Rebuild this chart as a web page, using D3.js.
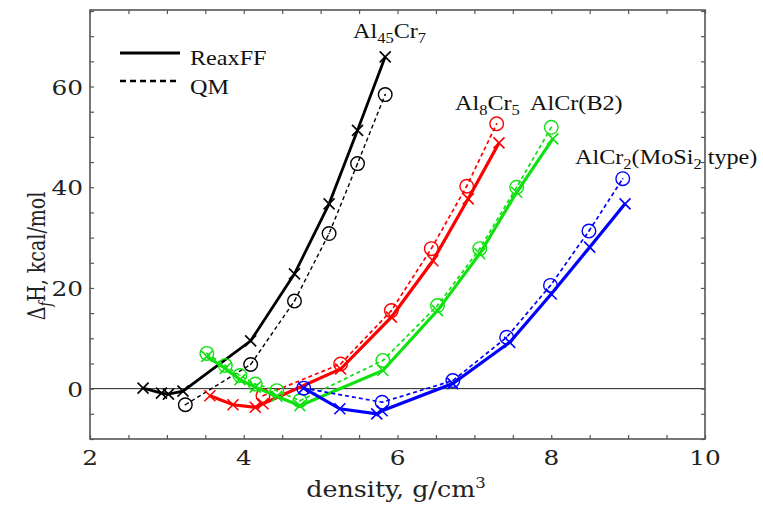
<!DOCTYPE html>
<html><head><meta charset="utf-8">
<script src="https://cdn.jsdelivr.net/npm/d3@7"></script>
<style>body{margin:0;background:#fff;} svg{display:block;}</style>
</head><body>
<svg id="c" width="763" height="505"></svg>
<script>
// ---- data ----
const xTicks = [2, 4, 6, 8, 10];
const yTicks = [0, 20, 40, 60];
const legendLabels = ["ReaxFF", "QM"];

const blackReaxX = [2.69, 2.93, 3.02, 3.21, 4.09, 4.66, 5.11, 5.48, 5.84];
const blackReaxY = [0.1, -0.9, -1.1, -0.5, 9.5, 22.8, 36.7, 51.3, 65.9];
const blackQmX = [3.24, 4.09, 4.66, 5.11, 5.48, 5.84];
const blackQmY = [-3.2, 4.8, 17.4, 30.8, 44.7, 58.4];

const redReaxX = [3.56, 3.86, 4.15, 4.25, 5.26, 5.92, 6.46, 6.92, 7.32];
const redReaxY = [-1.4, -3.2, -3.7, -3.0, 3.9, 14.2, 25.4, 37.7, 48.8];
const redQmX = [4.25, 5.26, 5.92, 6.44, 6.90, 7.29];
const redQmY = [-1.4, 4.9, 15.5, 27.8, 40.2, 52.6];

const greenReaxX = [3.52, 3.76, 3.95, 4.15, 4.43, 4.73, 5.81, 6.52, 7.07, 7.55, 8.02];
const greenReaxY = [6.4, 4.0, 1.8, 0.3, -1.5, -3.4, 3.6, 15.5, 26.8, 39.0, 49.6];
const greenQmX = [3.52, 3.76, 3.95, 4.15, 4.43, 4.73, 5.81, 6.52, 7.07, 7.55, 8.0];
const greenQmY = [7.0, 4.6, 2.6, 0.9, -0.4, -2.4, 5.6, 16.5, 27.8, 40.0, 51.9];

const blueReaxX = [4.78, 5.25, 5.73, 5.80, 6.72, 7.46, 8.0, 8.5, 8.96];
const blueReaxY = [0.1, -4.0, -5.0, -4.4, 1.0, 9.2, 18.8, 28.1, 36.7];
const blueQmX = [4.78, 5.8, 6.72, 7.42, 7.99, 8.49, 8.93];
const blueQmY = [0.1, -2.7, 1.6, 10.2, 20.5, 31.3, 41.7];

const seriesColors = ["#000000", "#ff0000", "#10e010", "#0000ff"];

// ---- layout ----
const svg = d3.select("#c");
const L = 90, R = 705, T = 10, B = 439;
const x = d3.scaleLinear().domain([2, 10]).range([L, R]);
const y = d3.scaleLinear().domain([-10, 75.2]).range([B, T]);
const frameColor = "#555";
const SX = 1.18; // horizontal stretch of the reference figure text

svg.append("line").attr("x1", L).attr("x2", R).attr("y1", y(0)).attr("y2", y(0))
  .attr("stroke", "#222").attr("stroke-width", 1);

const xMinor = d3.range(2, 10.01, 0.5);
const yMinor = d3.range(-10, 75.01, 5);
svg.append("g").attr("transform", `translate(0,${B})`)
  .call(d3.axisBottom(x).tickValues(xMinor).tickSize(-4).tickFormat(""));
svg.append("g").attr("transform", `translate(0,${T})`)
  .call(d3.axisTop(x).tickValues(xMinor).tickSize(-4).tickFormat(""));
svg.append("g").attr("transform", `translate(${L},0)`)
  .call(d3.axisLeft(y).tickValues(yMinor).tickSize(-4).tickFormat(""));
svg.append("g").attr("transform", `translate(${R},0)`)
  .call(d3.axisRight(y).tickValues(yMinor).tickSize(-4).tickFormat(""));
svg.selectAll(".domain").remove();
svg.selectAll(".tick line").attr("stroke", frameColor).attr("stroke-width", 1.2);

svg.append("rect").attr("x", L).attr("y", T).attr("width", R - L).attr("height", B - T)
  .attr("fill", "none").attr("stroke", frameColor).attr("stroke-width", 1.6);

// tick labels
const tickFont = "DejaVu Serif";
svg.append("g").selectAll("text").data(xTicks).join("text")
  .attr("transform", d => `translate(${x(d)},465) scale(${SX},1)`).attr("text-anchor", "middle")
  .attr("font-family", tickFont).attr("font-size", 21).attr("fill", "#222").text(d => d);
svg.append("g").selectAll("text").data(yTicks).join("text")
  .attr("transform", d => `translate(83,${y(d) + 8}) scale(${SX},1)`).attr("text-anchor", "end")
  .attr("font-family", tickFont).attr("font-size", 21).attr("fill", "#222").text(d => d);

// axis titles
const xt = svg.append("text").attr("transform", `translate(396,497) scale(${SX},1)`).attr("text-anchor", "middle")
  .attr("font-family", tickFont).attr("font-size", 21.5).attr("fill", "#222");
xt.append("tspan").text("density, g/cm");
xt.append("tspan").attr("dy", -9).attr("font-size", 14).text("3");

const yt = svg.append("text").attr("transform", `translate(45,256) scale(1.25,1) rotate(-90)`)
  .attr("text-anchor", "middle").attr("font-family", tickFont).attr("font-size", 19).attr("fill", "#222");
yt.append("tspan").text("Δ");
yt.append("tspan").attr("dy", 5).attr("font-size", 13).attr("font-style", "italic").text("f");
yt.append("tspan").attr("dy", -5).text("H, kcal/mol");

// series
const all = [
  {c: seriesColors[0], rx: blackReaxX, ry: blackReaxY, qx: blackQmX, qy: blackQmY, sw: 2.8, dw: 1.4},
  {c: seriesColors[1], rx: redReaxX, ry: redReaxY, qx: redQmX, qy: redQmY, sw: 3.2, dw: 1.7},
  {c: seriesColors[2], rx: greenReaxX, ry: greenReaxY, qx: greenQmX, qy: greenQmY, sw: 3.2, dw: 1.7},
  {c: seriesColors[3], rx: blueReaxX, ry: blueReaxY, qx: blueQmX, qy: blueQmY, sw: 3.2, dw: 1.7}
];
const line = d3.line().x(d => x(d[0])).y(d => y(d[1]));
all.forEach(s => {
  const reax = s.rx.map((v, i) => [v, s.ry[i]]);
  const qm = s.qx.map((v, i) => [v, s.qy[i]]);
  const g = svg.append("g");
  g.append("path").attr("d", line(qm)).attr("fill", "none").attr("stroke", s.c)
    .attr("stroke-width", s.dw).attr("stroke-dasharray", "4,3");
  g.append("path").attr("d", line(reax)).attr("fill", "none").attr("stroke", s.c)
    .attr("stroke-width", s.sw);
  g.selectAll("circle").data(qm).join("circle")
    .attr("cx", d => x(d[0])).attr("cy", d => y(d[1])).attr("r", 6.8)
    .attr("fill", "none").attr("stroke", s.c).attr("stroke-width", 1.4);
  g.selectAll("circle.dot").data(qm).join("circle").attr("class", "dot")
    .attr("cx", d => x(d[0])).attr("cy", d => y(d[1])).attr("r", 0.8).attr("fill", s.c);
  const xs = 5.5;
  g.selectAll("path.x").data(reax).join("path").attr("class", "x")
    .attr("d", d => {
      const px = x(d[0]), py = y(d[1]);
      return `M${px - xs},${py - xs}L${px + xs},${py + xs}M${px - xs},${py + xs}L${px + xs},${py - xs}`;
    })
    .attr("stroke", s.c).attr("stroke-width", 1.6);
});

// legend
const legFont = "Liberation Serif";
svg.append("line").attr("x1", 120).attr("x2", 180).attr("y1", 53).attr("y2", 53)
  .attr("stroke", "#000").attr("stroke-width", 2.8);
svg.append("line").attr("x1", 120).attr("x2", 180).attr("y1", 81).attr("y2", 81)
  .attr("stroke", "#000").attr("stroke-width", 2.4).attr("stroke-dasharray", "6,4");
svg.append("g").selectAll("text").data(legendLabels).join("text")
  .attr("transform", (d, i) => `translate(190,${65 + i * 29}) scale(${SX},1)`)
  .attr("font-family", legFont).attr("font-size", 20.5).attr("fill", "#111").text(d => d);

function label(xp, yp, parts) {
  const t = svg.append("text").attr("transform", `translate(${xp},${yp}) scale(${SX},1)`)
    .attr("font-family", legFont).attr("font-size", 20.5).attr("fill", "#111");
  let sub = false;
  parts.forEach(p => {
    const isSub = p.startsWith("_");
    const txt = isSub ? p.slice(1) : p;
    const ts = t.append("tspan").text(txt);
    if (isSub) { ts.attr("font-size", 14); if (!sub) { ts.attr("dy", 5); sub = true; } }
    else if (sub) { ts.attr("dy", -5); sub = false; }
  });
}
label(353, 38, ["Al", "_45", "Cr", "_7"]);
label(455, 110, ["Al", "_8", "Cr", "_5"]);
label(530, 110, ["AlCr(B2)"]);
label(575, 164, ["AlCr", "_2", "(MoSi", "_2", " type)"]);
</script>
</body></html>
